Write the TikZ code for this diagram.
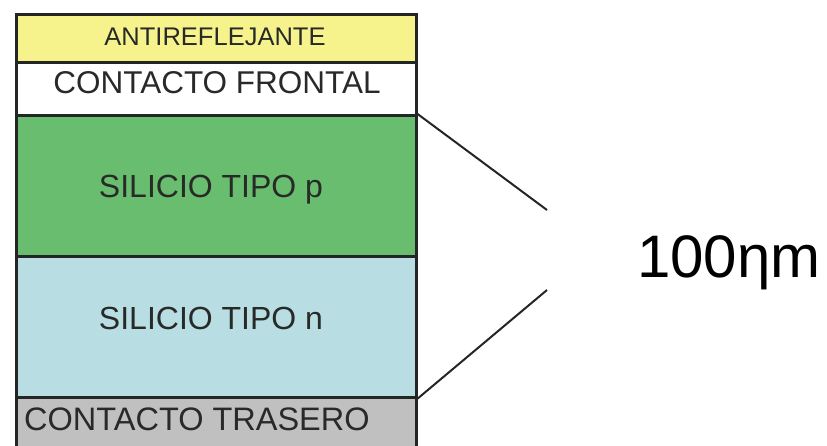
\documentclass[tikz,border=0pt]{standalone}
\usepackage{fontspec}
\setmainfont{Liberation Sans}
\definecolor{arYellow}{RGB}{247,243,140}
\definecolor{siGreen}{RGB}{104,190,110}
\definecolor{siBlue}{RGB}{184,222,228}
\definecolor{ctGray}{RGB}{192,192,192}
\definecolor{edgeDark}{RGB}{35,38,36}
\definecolor{txtDark}{RGB}{40,42,40}
\begin{document}
\begin{tikzpicture}[x=1pt,y=-1pt,
  layer/.style={draw=edgeDark, line width=2.6pt, minimum width=400pt, inner sep=0pt, anchor=north west, text=txtDark},
  lbl/.style={text=txtDark, inner sep=0pt},
  conn/.style={draw=edgeDark, line width=2pt}]
\useasboundingbox (0,0) rectangle (827,445);
\clip (0,0) rectangle (827,445);
\node[layer, fill=ctGray, minimum height=70pt] (ct) at (15,396) {};
\node[layer, fill=siBlue, minimum height=141pt] (sn) at (15,255) {};
\node[layer, fill=siGreen, minimum height=141pt] (sp) at (15,114) {};
\node[layer, fill=white, minimum height=53pt] (cf) at (15,61) {};
\node[layer, fill=arYellow, minimum height=48pt] (ar) at (15,13) {};
\node[lbl, font=\fontsize{25.5}{27}\selectfont] (tar) at (215,37) {ANTIREFLEJANTE};
\node[lbl, font=\fontsize{31.5}{33}\selectfont] (tcf) at (217,83) {CONTACTO FRONTAL};
\node[lbl, font=\fontsize{32}{34}\selectfont] (tsp) at (211,190) {SILICIO TIPO p};
\node[lbl, font=\fontsize{32}{34}\selectfont] (tsn) at (211,318) {SILICIO TIPO n};
\node[lbl, font=\fontsize{32.5}{34}\selectfont, anchor=base west] (tct) at (24,430) {CONTACTO TRASERO};
\coordinate (e1) at (547,210);
\coordinate (e2) at (547,290);
\draw[conn] (sp.north east) -- (e1);
\draw[conn] (sn.south east) -- (e2);
\node[inner sep=0pt, anchor=base west, font=\fontsize{60}{62}\selectfont, text=black] (dim) at (637,277) {100ηm};
\end{tikzpicture}
\end{document}
